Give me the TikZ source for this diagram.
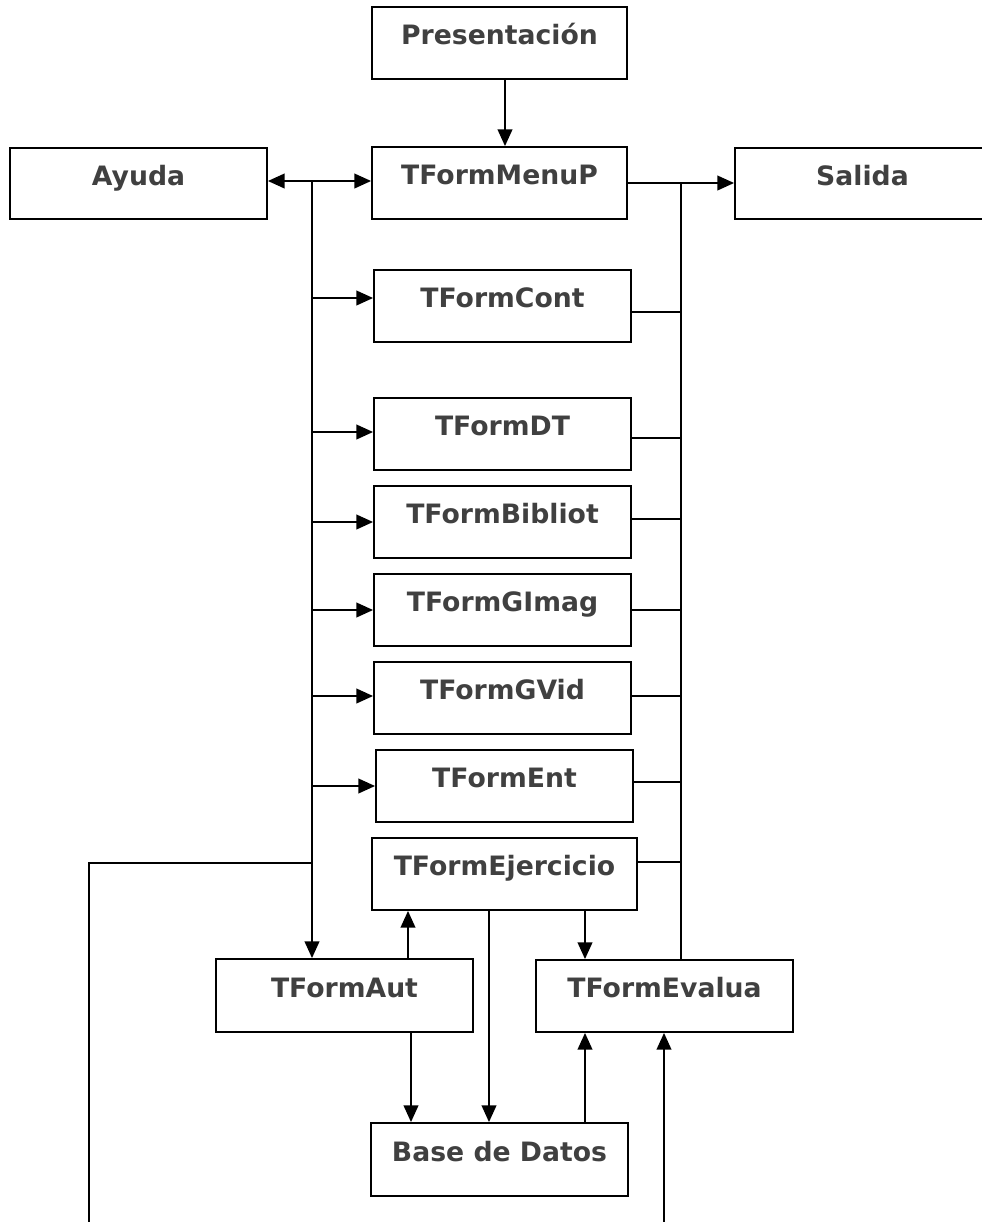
\documentclass[tikz,border=0pt]{standalone}
\usepackage{fontspec}
\setmainfont{DejaVu Sans}
\usetikzlibrary{arrows.meta,calc}
\definecolor{txt}{RGB}{64,64,64}
\begin{document}
\begin{tikzpicture}[x=0.75pt,y=-0.75pt,
  box/.style={draw=black,line width=1.4pt,rectangle,inner sep=0pt,
    minimum width=192.75pt,minimum height=54pt,
    text height=14.8pt,text depth=12pt,
    font=\fontsize{20pt}{24pt}\selectfont\bfseries,text=txt},
  conn/.style={draw=black,line width=1.3pt},
  arr/.style={conn,-{Triangle[length=12.5pt,width=11pt]}},
  arrboth/.style={conn,{Triangle[length=12.5pt,width=11pt]}-{Triangle[length=12.5pt,width=11pt]}}]
\useasboundingbox (0,0) rectangle (982,1222);
\clip (0,0) rectangle (982,1222);
\fill[white] (0,0) rectangle (982,1222);

% boxes
\node[box,minimum width=191.25pt] (pres) at (499.5,43) {Presentación};
\node[box,minimum height=53.25pt] (ayuda) at (138.5,183.5) {Ayuda};
\node[box,minimum width=191.25pt] (menu) at (499.5,183) {TFormMenuP};
\node[box,minimum width=191.25pt,minimum height=53.25pt] (salida) at (862.5,183.5) {Salida};
\node[box] (cont) at (502.5,306) {TFormCont};
\node[box] (dt) at (502.5,434) {TFormDT};
\node[box] (bib) at (502.5,522) {TFormBibliot};
\node[box] (gimag) at (502.5,610) {TFormGImag};
\node[box] (gvid) at (502.5,698) {TFormGVid};
\node[box] (ent) at (504.5,786) {TFormEnt};
\node[box,minimum width=198.75pt] (ejer) at (504.5,874) {TFormEjercicio};
\node[box,minimum height=54.75pt] (aut) at (344.5,995.5) {TFormAut};
\node[box] (eval) at (664.5,996) {TFormEvalua};
\node[box,minimum height=54.75pt] (base) at (499.5,1159.5) {Base de Datos};

% reference coordinates
\coordinate (L) at (312,0);
\coordinate (R) at (681,0);
\coordinate (FL) at (89,0);
\coordinate (B) at (0,1222);
\coordinate (P) at (505,0);
\coordinate (yA) at (0,181);
\coordinate (yS) at (0,183);
\coordinate (lc) at (0,298);
\coordinate (ld) at (0,432);
\coordinate (lb) at (0,522);
\coordinate (lg) at (0,610);
\coordinate (lv) at (0,696);
\coordinate (le) at (0,786);
\coordinate (ly) at (0,863);
\coordinate (rc) at (0,312);
\coordinate (rd) at (0,438);
\coordinate (rb) at (0,519);
\coordinate (rg) at (0,610);
\coordinate (rv) at (0,696);
\coordinate (re) at (0,782);
\coordinate (rj) at (0,862);
\coordinate (X1) at (585,0);
\coordinate (X2) at (408,0);
\coordinate (X3) at (489,0);
\coordinate (X4) at (411,0);
\coordinate (X6) at (664,0);

% top
\draw[arr] (pres.south -| P) -- (menu.north -| P);
\draw[arrboth] (ayuda.east |- yA) -- (menu.west |- yA);
\draw[arr] (menu.east |- yS) -- (salida.west |- yS);

% left bus
\draw[arr] (L |- yA) -- (aut.north -| L);
\draw[arr] (L |- lc) -- (cont.west |- lc);
\draw[arr] (L |- ld) -- (dt.west |- ld);
\draw[arr] (L |- lb) -- (bib.west |- lb);
\draw[arr] (L |- lg) -- (gimag.west |- lg);
\draw[arr] (L |- lv) -- (gvid.west |- lv);
\draw[arr] (L |- le) -- (ent.west |- le);
\draw[conn] (FL |- B) -- (FL |- ly) -- (L |- ly);

% right bus
\draw[conn] (R |- yS) -- (eval.north -| R);
\draw[conn] (cont.east |- rc) -- (R |- rc);
\draw[conn] (dt.east |- rd) -- (R |- rd);
\draw[conn] (bib.east |- rb) -- (R |- rb);
\draw[conn] (gimag.east |- rg) -- (R |- rg);
\draw[conn] (gvid.east |- rv) -- (R |- rv);
\draw[conn] (ent.east |- re) -- (R |- re);
\draw[conn] (ejer.east |- rj) -- (R |- rj);

% lower part
\draw[arr] (aut.north -| X2) -- (ejer.south -| X2);
\draw[arr] (ejer.south -| X1) -- (eval.north -| X1);
\draw[arr] (ejer.south -| X3) -- (base.north -| X3);
\draw[arr] (aut.south -| X4) -- (base.north -| X4);
\draw[arr] (base.north -| X1) -- (eval.south -| X1);
\draw[arr] (X6 |- B) -- (eval.south -| X6);
\end{tikzpicture}
\end{document}
